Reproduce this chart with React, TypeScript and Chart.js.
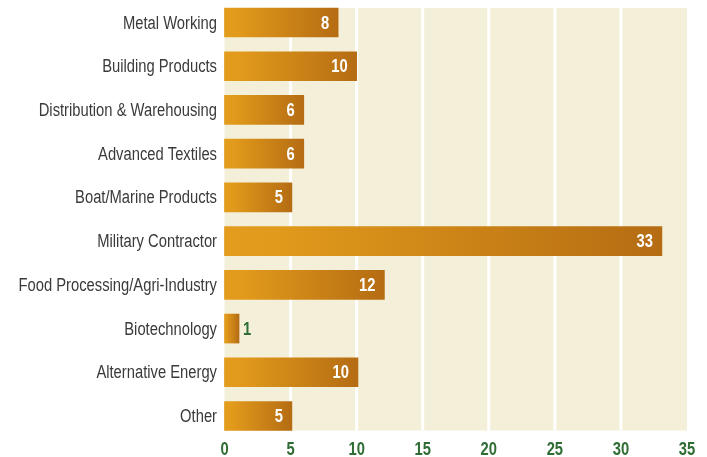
import React, { useEffect, useRef } from "react";
import { Chart, registerables } from "chart.js";

Chart.register(...registerables);

const categories = [
  "Metal Working",
  "Building Products",
  "Distribution & Warehousing",
  "Advanced Textiles",
  "Boat/Marine Products",
  "Military Contractor",
  "Food Processing/Agri-Industry",
  "Biotechnology",
  "Alternative Energy",
  "Other",
];
// bar lengths as drawn in the picture
const barLengths = [8.6, 10, 6, 6, 5.1, 33.1, 12.1, 1.1, 10.1, 5.1];
// numbers printed on the bars
const printedValues = [8, 10, 6, 6, 5, 33, 12, 1, 10, 5];
const xTicks = [0, 5, 10, 15, 20, 25, 30, 35];

const FONT = "'Liberation Sans', Arial, sans-serif";
const NARROW = 0.82;
const GREEN = "#2f6d34";
const BEIGE = "#f4efd9";
const LABEL_GREY = "#3a3a3a";

function narrowText(ctx: CanvasRenderingContext2D, text: string, x: number, y: number, align: CanvasTextAlign) {
  ctx.save();
  ctx.translate(x, y);
  ctx.scale(NARROW, 1);
  ctx.textAlign = align;
  ctx.textBaseline = "alphabetic";
  ctx.fillText(text, 0, 0);
  ctx.restore();
}

const backgroundPlugin = {
  id: "bgPlugin",
  beforeDatasetsDraw(chart: any) {
    const { ctx, chartArea, scales } = chart;
    const x = scales.x;
    const ext = 14.5;
    const top = chartArea.top - ext;
    const bottom = chartArea.bottom + ext;
    ctx.save();
    ctx.fillStyle = BEIGE;
    ctx.fillRect(chartArea.left, top, chartArea.right - chartArea.left, bottom - top);
    ctx.strokeStyle = "#ffffff";
    ctx.lineWidth = 3;
    xTicks.forEach((t) => {
      if (t === 0 || t === 35) return;
      const px = x.getPixelForValue(t);
      ctx.beginPath();
      ctx.moveTo(px, top);
      ctx.lineTo(px, bottom);
      ctx.stroke();
    });
    ctx.restore();
  },
};

const labelPlugin = {
  id: "labelPlugin",
  afterDatasetsDraw(chart: any) {
    const { ctx, chartArea, scales } = chart;
    const meta = chart.getDatasetMeta(0);
    ctx.save();
    // value labels
    ctx.font = `bold 18px ${FONT}`;
    meta.data.forEach((bar: any, i: number) => {
      const w = bar.x - bar.base;
      const txt = String(printedValues[i]);
      if (w > 30) {
        ctx.fillStyle = "#ffffff";
        narrowText(ctx, txt, bar.x - 9, bar.y + 6, "right");
      } else {
        ctx.fillStyle = GREEN;
        narrowText(ctx, txt, bar.x + 4, bar.y + 6, "left");
      }
    });
    // category labels (y axis)
    ctx.font = `18px ${FONT}`;
    ctx.fillStyle = LABEL_GREY;
    categories.forEach((c, i) => {
      const py = scales.y.getPixelForValue(i);
      narrowText(ctx, c, chartArea.left - 7.5, py + 6, "right");
    });
    // x tick labels
    ctx.font = `bold 18px ${FONT}`;
    ctx.fillStyle = GREEN;
    xTicks.forEach((t) => {
      const px = scales.x.getPixelForValue(t);
      narrowText(ctx, String(t), px, 455, "center");
    });
    ctx.restore();
  },
};

export default function App() {
  const ref = useRef<HTMLCanvasElement>(null);

  useEffect(() => {
    if (!ref.current) return;
    const chart = new Chart(ref.current, {
      type: "bar",
      data: {
        labels: categories,
        datasets: [
          {
            data: barLengths,
            barThickness: 29,
            clip: false as any,
            backgroundColor: (c: any) => {
              const ch = c.chart;
              const x = ch.scales && ch.scales.x;
              if (!ch.chartArea || !x || c.raw == null) return "#d48c18";
              const x0 = x.getPixelForValue(0);
              const x1 = x.getPixelForValue(c.raw);
              if (!isFinite(x0) || !isFinite(x1) || x1 - x0 < 1) return "#d48c18";
              const g = ch.ctx.createLinearGradient(x0, 0, x1, 0);
              g.addColorStop(0, "#e39c1c");
              g.addColorStop(0.12, "#e19a1b");
              g.addColorStop(1, "#b56c13");
              return g;
            },
            borderWidth: 0,
          },
        ],
      },
      options: {
        indexAxis: "y",
        animation: false,
        responsive: true,
        maintainAspectRatio: false,
        layout: { padding: { top: 22.5, right: 20, left: 0, bottom: 0 } },
        plugins: {
          legend: { display: false },
          tooltip: { enabled: false },
        },
        scales: {
          x: {
            type: "linear",
            min: 0,
            max: 35,
            afterFit: (s: any) => {
              s.height = 41;
            },
            grid: { display: false, drawTicks: false },
            border: { display: false },
            ticks: { display: false, stepSize: 5 },
          },
          y: {
            type: "category",
            offset: false,
            afterFit: (s: any) => {
              s.width = 224.5;
            },
            grid: { display: false, drawTicks: false },
            border: { display: false },
            ticks: { display: false },
          },
        },
      },
      plugins: [backgroundPlugin, labelPlugin],
    });
    return () => chart.destroy();
  }, []);

  return (
    <div style={{ position: "fixed", left: 0, top: 0, width: 707, height: 457, background: "#ffffff" }}>
      <canvas ref={ref} />
    </div>
  );
}
